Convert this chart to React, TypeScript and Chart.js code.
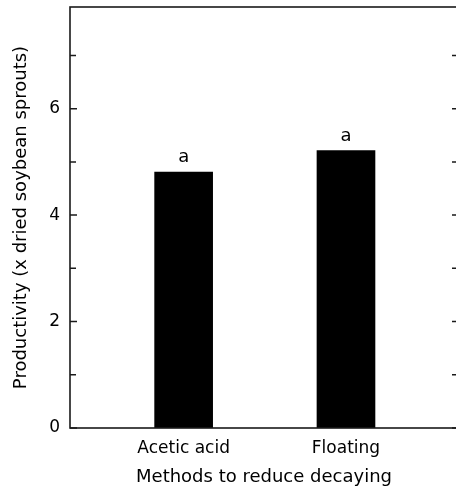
import React, { useEffect, useRef } from "react";
import { Chart, registerables } from "chart.js";

Chart.register(...registerables);

const categories = ["Acetic acid", "Floating"];
const productivity = [4.81, 5.21];
const letters = ["a", "a"];
const yMajorLabels = [0, 2, 4, 6];
const yTickValues = [0, 1, 2, 3, 4, 5, 6, 7];
const xTitle = "Methods to reduce decaying";
const yTitle = "Productivity (x dried soybean sprouts)";

const FONT = "'DejaVu Sans', 'Liberation Sans', Arial, sans-serif";

const framePlugin = {
  id: "frameAndTicks",
  afterDraw(chart: any) {
    const { ctx, chartArea } = chart;
    const { left, right, top, bottom } = chartArea;
    const y = chart.scales.y;
    ctx.save();
    ctx.strokeStyle = "#1a1a1a";
    ctx.lineWidth = 1.6;
    ctx.strokeRect(left, top, right - left, bottom - top);
    ctx.lineWidth = 1.5;
    yTickValues.forEach((v) => {
      const py = y.getPixelForValue(v);
      const len = yMajorLabels.includes(v) ? 7 : 6;
      ctx.beginPath();
      ctx.moveTo(left, py);
      ctx.lineTo(left + len, py);
      ctx.moveTo(right, py);
      ctx.lineTo(right - 6, py);
      ctx.stroke();
    });
    ctx.restore();
  },
};

const letterPlugin = {
  id: "letters",
  afterDatasetsDraw(chart: any) {
    const { ctx } = chart;
    const meta = chart.getDatasetMeta(0);
    ctx.save();
    ctx.fillStyle = "#000";
    ctx.font = `18px ${FONT}`;
    ctx.textAlign = "center";
    ctx.textBaseline = "alphabetic";
    meta.data.forEach((bar: any, i: number) => {
      ctx.fillText(letters[i], bar.x, bar.y - 10);
    });
    ctx.restore();
  },
};

export default function App() {
  const canvasRef = useRef<HTMLCanvasElement | null>(null);

  useEffect(() => {
    if (!canvasRef.current) return;
    const chart = new Chart(canvasRef.current, {
      type: "bar",
      data: {
        datasets: [
          {
            data: categories.map((c, i) => ({ x: i + 1, y: productivity[i] })) as any,
            backgroundColor: "#000",
            borderWidth: 0,
            barThickness: 58,
          },
        ],
      },
      options: {
        animation: false,
        responsive: true,
        maintainAspectRatio: false,
        layout: { padding: { left: 0, right: 4, top: 7, bottom: 0 } },
        plugins: {
          legend: { display: false },
          tooltip: { enabled: false },
        },
        scales: {
          x: {
            type: "linear",
            offset: false,
            min: 0.3,
            max: 2.69,
            grid: { display: false, drawTicks: false },
            border: { display: false },
            afterBuildTicks(scale: any) {
              scale.ticks = categories.map((c, i) => ({ value: i + 1 }));
            },
            afterFit(scale: any) {
              scale.height = 63;
              scale.paddingLeft = 0;
              scale.paddingRight = 0;
            },
            ticks: {
              color: "#000",
              font: { family: FONT, size: 17 },
              padding: 10,
              maxRotation: 0,
              autoSkip: false,
              callback: (v: any) => categories[Math.round(Number(v)) - 1] ?? "",
            },
            title: {
              display: true,
              text: xTitle,
              color: "#000",
              font: { family: FONT, size: 18 },
              padding: { top: 0, bottom: 3 },
            },
          },
          y: {
            min: 0,
            max: 7.91,
            grid: { display: false, drawTicks: false },
            border: { display: false },
            afterFit(scale: any) {
              scale.width = 70;
              scale.paddingTop = 0;
              scale.paddingBottom = 0;
            },
            ticks: {
              stepSize: 1,
              includeBounds: false,
              color: "#000",
              font: { family: FONT, size: 17 },
              padding: 10,
              callback: (v: any) => (yMajorLabels.includes(Number(v)) ? String(v) : ""),
            },
            title: {
              display: true,
              text: yTitle,
              color: "#000",
              font: { family: FONT, size: 18 },
              padding: { top: 11, bottom: 0 },
            },
          },
        },
      },
      plugins: [framePlugin, letterPlugin],
    });
    return () => chart.destroy();
  }, []);

  return (
    <div
      style={{
        position: "fixed",
        left: 0,
        top: 0,
        width: 456,
        height: 491,
        overflow: "hidden",
        background: "#fff",
      }}
    >
      <div style={{ position: "relative", width: 462, height: 491 }}>
        <canvas ref={canvasRef} />
      </div>
    </div>
  );
}
